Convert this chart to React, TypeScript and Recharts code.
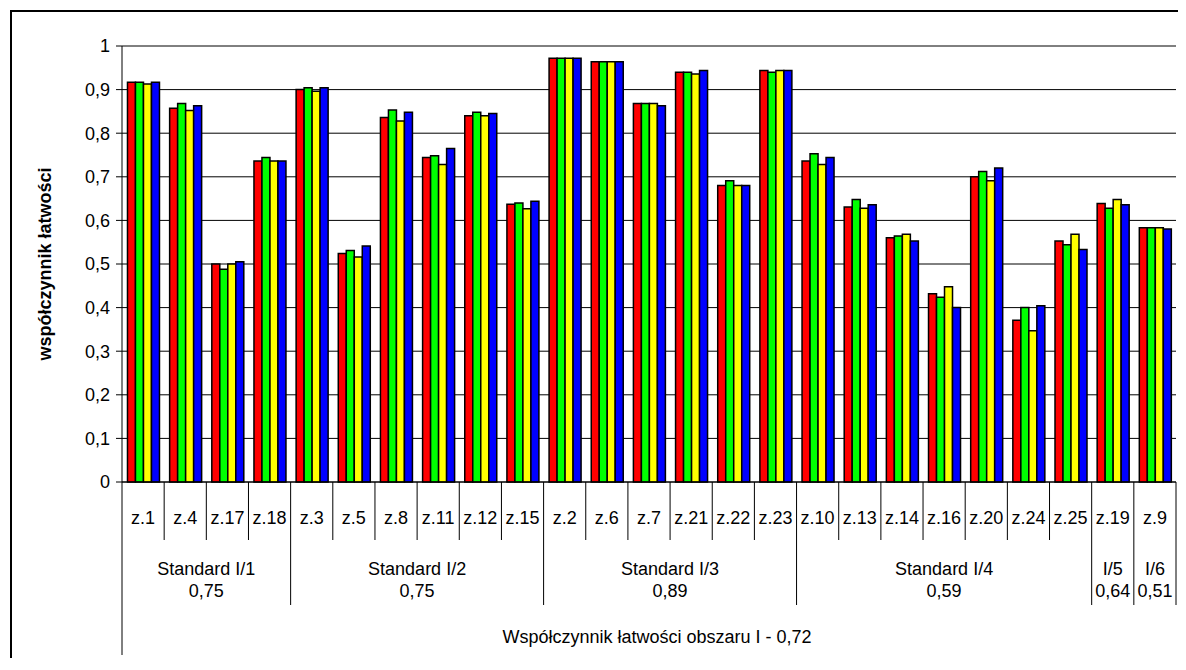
import { Bar, BarChart, CartesianGrid, XAxis, YAxis } from 'recharts';

const categories = ['z.1', 'z.4', 'z.17', 'z.18', 'z.3', 'z.5', 'z.8', 'z.11', 'z.12', 'z.15', 'z.2', 'z.6', 'z.7', 'z.21', 'z.22', 'z.23', 'z.10', 'z.13', 'z.14', 'z.16', 'z.20', 'z.24', 'z.25', 'z.19', 'z.9'];

const redValues = [0.917, 0.857, 0.5, 0.736, 0.9, 0.524, 0.836, 0.744, 0.84, 0.637, 0.972, 0.964, 0.868, 0.94, 0.68, 0.944, 0.736, 0.631, 0.56, 0.432, 0.7, 0.371, 0.553, 0.639, 0.583];
const greenValues = [0.917, 0.868, 0.488, 0.744, 0.904, 0.531, 0.853, 0.748, 0.848, 0.64, 0.972, 0.964, 0.868, 0.94, 0.691, 0.94, 0.753, 0.648, 0.564, 0.424, 0.712, 0.4, 0.544, 0.628, 0.583];
const yellowValues = [0.913, 0.852, 0.5, 0.736, 0.896, 0.516, 0.828, 0.728, 0.84, 0.627, 0.972, 0.964, 0.868, 0.936, 0.68, 0.944, 0.728, 0.628, 0.568, 0.448, 0.691, 0.347, 0.568, 0.648, 0.583];
const blueValues = [0.917, 0.863, 0.505, 0.736, 0.904, 0.541, 0.848, 0.765, 0.845, 0.644, 0.972, 0.964, 0.863, 0.944, 0.68, 0.944, 0.744, 0.636, 0.553, 0.4, 0.72, 0.404, 0.533, 0.636, 0.58];

const groupLabels = ['Standard I/1', 'Standard I/2', 'Standard I/3', 'Standard I/4', 'I/5', 'I/6'];
const groupValues = ['0,75', '0,75', '0,89', '0,59', '0,64', '0,51'];
const groupSizes = [4, 6, 6, 7, 1, 1];

const yTicks = [0, 0.1, 0.2, 0.3, 0.4, 0.5, 0.6, 0.7, 0.8, 0.9, 1];
const areaTitle = 'Współczynnik łatwości obszaru I - 0,72';

const data = categories.map((name, i) => ({
  name,
  s1: redValues[i],
  s2: greenValues[i],
  s3: yellowValues[i],
  s4: blueValues[i]
}));

const groupStarts = groupSizes.map((_, g) => groupSizes.slice(0, g).reduce((a, b) => a + b, 0));

const FONT = '"Liberation Sans", Arial, sans-serif';
const PLOT_W = 1054;

function CategoryTick(props: any) {
  const { x, y, payload, index } = props;
  const bw = payload && payload.offset ? payload.offset * 2 : PLOT_W / categories.length;
  const left = x - bw / 2;
  const g = groupStarts.indexOf(index);
  const isLast = index === categories.length - 1;
  return (
    <g fontFamily={FONT} fontSize={18} fill="#000">
      <text x={x} y={y + 42} textAnchor="middle">{payload.value}</text>
      <line
        x1={left}
        x2={left}
        y1={y}
        y2={y + (index === 0 ? 173 : g >= 0 ? 123 : 58)}
        stroke="#000"
      />
      {isLast && <line x1={x + bw / 2} x2={x + bw / 2} y1={y} y2={y + 123} stroke="#000" />}
      {g >= 0 && (
        <>
          <text x={left + (groupSizes[g] * bw) / 2} y={y + 93} textAnchor="middle">{groupLabels[g]}</text>
          <text x={left + (groupSizes[g] * bw) / 2} y={y + 115} textAnchor="middle">{groupValues[g]}</text>
        </>
      )}
      {index === 0 && (
        <text x={left + (categories.length * bw) / 2 + 8} y={y + 161} textAnchor="middle">{areaTitle}</text>
      )}
    </g>
  );
}

function YLabel(props: any) {
  const { viewBox } = props;
  const cx = 33;
  const cy = viewBox.y + viewBox.height / 2;
  return (
    <text
      x={cx}
      y={cy}
      transform={`rotate(-90, ${cx}, ${cy})`}
      textAnchor="middle"
      dominantBaseline="central"
      fontFamily={FONT}
      fontSize={18}
      fontWeight="bold"
      fill="#000"
    >
      współczynnik łatwości
    </text>
  );
}

export default function App() {
  return (
    <div
      style={{
        position: 'relative',
        left: 2,
        top: 2,
        width: 1176,
        height: 650,
        boxSizing: 'border-box',
        borderTop: '2px solid #000',
        borderLeft: '2px solid #000',
        borderRight: '2px solid #000',
        background: '#fff'
      }}
    >
      <BarChart
        width={1172}
        height={648}
        data={data}
        margin={{ top: 34, right: 8, left: 0, bottom: 0 }}
        barCategoryGap="13%"
        barGap={0}
      >
        <CartesianGrid vertical={false} stroke="#000" />
        <XAxis
          dataKey="name"
          interval={0}
          height={178}
          tickLine={false}
          tickSize={0}
          tickMargin={0}
          axisLine={{ stroke: '#000' }}
          tick={<CategoryTick />}
        />
        <YAxis
          width={110}
          domain={[0, 1]}
          ticks={yTicks}
          interval={0}
          tickSize={6}
          tickMargin={6}
          axisLine={{ stroke: '#000' }}
          tickLine={{ stroke: '#000' }}
          tick={{ fill: '#000', fontSize: 18, fontFamily: FONT }}
          tickFormatter={(v: number) => String(v).replace('.', ',')}
          label={<YLabel />}
        />
        <Bar dataKey="s1" fill="#ff0000" stroke="#000" strokeWidth={1.5} isAnimationActive={false} />
        <Bar dataKey="s2" fill="#00ff00" stroke="#000" strokeWidth={1.5} isAnimationActive={false} />
        <Bar dataKey="s3" fill="#ffff00" stroke="#000" strokeWidth={1.5} isAnimationActive={false} />
        <Bar dataKey="s4" fill="#0000ff" stroke="#000" strokeWidth={1.5} isAnimationActive={false} />
      </BarChart>
    </div>
  );
}
